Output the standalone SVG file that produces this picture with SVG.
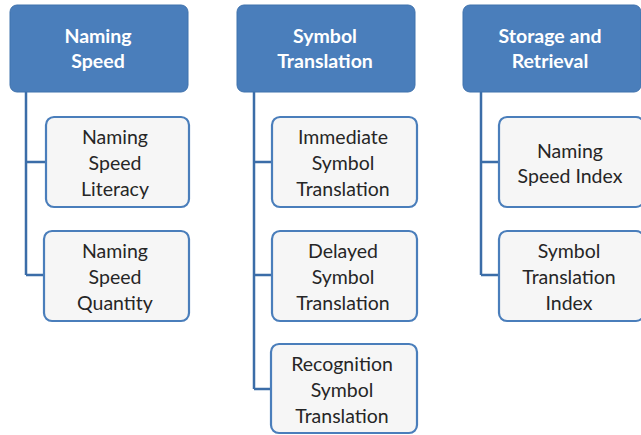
<svg xmlns="http://www.w3.org/2000/svg" width="641" height="435" viewBox="0 0 641 435">
  <style>
    .head rect { fill: #4a7ebb; stroke: #3f72ad; stroke-width: 1; }
    .head text { fill: #ffffff; font-family: Lato, "Liberation Sans", sans-serif; font-weight: bold; font-size: 19.5px; text-anchor: middle; dominant-baseline: central; }
    .leaf rect { fill: #f6f6f6; stroke: #4a7ebb; stroke-width: 2.2; }
    .leaf text { fill: #262626; font-family: Lato, "Liberation Sans", sans-serif; font-size: 19.5px; text-anchor: middle; dominant-baseline: central; }
    .wire { fill: none; stroke: #3b6da8; stroke-width: 2.5; }
  </style>

  <!-- connectors -->
  <g id="connectors">
    <path class="wire" d="M26,92 V275 M26,162 H46 M26,275 H46"/>
    <path class="wire" d="M254,92 V389 M254,162 H272 M254,275 H272 M254,389 H272"/>
    <path class="wire" d="M481,92 V275 M481,162 H499 M481,275 H499"/>
  </g>

  <!-- column headers -->
  <g id="naming-speed" class="head">
    <rect x="10" y="5" width="178" height="87" rx="7"/>
    <text x="98" y="35">Naming</text>
    <text x="98" y="60">Speed</text>
  </g>
  <g id="symbol-translation" class="head">
    <rect x="237" y="5" width="178" height="87" rx="7"/>
    <text x="325" y="35">Symbol</text>
    <text x="325" y="60">Translation</text>
  </g>
  <g id="storage-retrieval" class="head">
    <rect x="463" y="5" width="178" height="87" rx="7"/>
    <text x="550" y="35">Storage and</text>
    <text x="550" y="60">Retrieval</text>
  </g>

  <!-- Naming Speed children -->
  <g id="naming-speed-literacy" class="leaf">
    <rect x="46" y="117" width="143" height="90" rx="8"/>
    <text x="115" y="136">Naming</text>
    <text x="115" y="162">Speed</text>
    <text x="115" y="188">Literacy</text>
  </g>
  <g id="naming-speed-quantity" class="leaf">
    <rect x="44" y="231" width="145" height="90" rx="8"/>
    <text x="115" y="250">Naming</text>
    <text x="115" y="276">Speed</text>
    <text x="115" y="302">Quantity</text>
  </g>

  <!-- Symbol Translation children -->
  <g id="immediate-symbol-translation" class="leaf">
    <rect x="272" y="117" width="145" height="90" rx="8"/>
    <text x="343" y="136">Immediate</text>
    <text x="343" y="162">Symbol</text>
    <text x="343" y="188">Translation</text>
  </g>
  <g id="delayed-symbol-translation" class="leaf">
    <rect x="272" y="231" width="145" height="90" rx="8"/>
    <text x="343" y="250">Delayed</text>
    <text x="343" y="276">Symbol</text>
    <text x="343" y="302">Translation</text>
  </g>
  <g id="recognition-symbol-translation" class="leaf">
    <rect x="271" y="344" width="146" height="89" rx="8"/>
    <text x="342" y="363">Recognition</text>
    <text x="342" y="389">Symbol</text>
    <text x="342" y="415">Translation</text>
  </g>

  <!-- Storage and Retrieval children -->
  <g id="naming-speed-index" class="leaf">
    <rect x="499" y="117" width="145" height="90" rx="8"/>
    <text x="570" y="150">Naming</text>
    <text x="570" y="175">Speed Index</text>
  </g>
  <g id="symbol-translation-index" class="leaf">
    <rect x="499" y="231" width="145" height="90" rx="8"/>
    <text x="569" y="250">Symbol</text>
    <text x="569" y="276">Translation</text>
    <text x="569" y="302">Index</text>
  </g>
</svg>
